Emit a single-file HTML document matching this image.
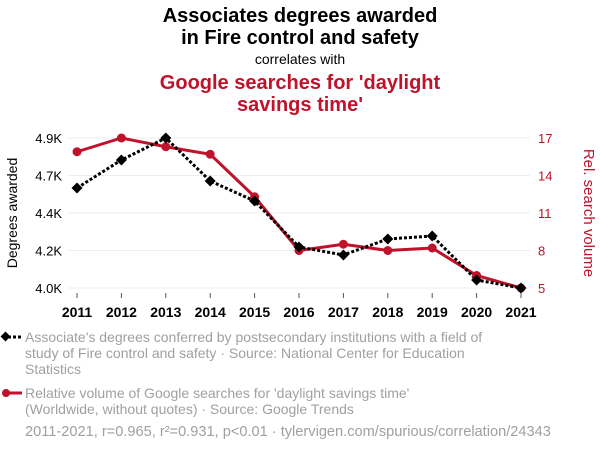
<!DOCTYPE html>
<html><head><meta charset="utf-8"><style>
body{margin:0;background:#fff;font-family:"Liberation Sans",sans-serif;}
svg{display:block}
</style></head><body>
<svg width="600" height="452">
<text x="300" y="22" text-anchor="middle" font-size="20" font-weight="bold" fill="#000">Associates degrees awarded</text>
<text x="300" y="44" text-anchor="middle" font-size="20" font-weight="bold" fill="#000">in Fire control and safety</text>
<text x="300" y="64" text-anchor="middle" font-size="14" fill="#000">correlates with</text>
<text x="300" y="89" text-anchor="middle" font-size="20" font-weight="bold" fill="#c0122a">Google searches for 'daylight</text>
<text x="300" y="111" text-anchor="middle" font-size="20" font-weight="bold" fill="#c0122a">savings time'</text>
<g id="grid"></g><g id="axes"></g><g id="series"></g>
<text transform="translate(17,213) rotate(-90)" text-anchor="middle" font-size="14" fill="#000">Degrees awarded</text>
<text transform="translate(584,213) rotate(90)" text-anchor="middle" font-size="15" fill="#c0122a">Rel. search volume</text>
<g>
<line x1="3" y1="337" x2="22" y2="337" stroke="#000" stroke-width="3" stroke-dasharray="3,2"/>
<rect x="2" y="333" width="7" height="7" transform="rotate(45 5.5 336.5)" fill="#000"/>
<text font-size="14" fill="#a0a0a0"><tspan x="25" y="342">Associate's degrees conferred by postsecondary institutions with a field of</tspan><tspan x="25" y="358">study of Fire control and safety · Source: National Center for Education</tspan><tspan x="25" y="374">Statistics</tspan></text>
</g>
<g>
<line x1="3" y1="393" x2="22" y2="393" stroke="#c0122a" stroke-width="3"/>
<circle cx="6" cy="393" r="4" fill="#c0122a"/>
<text font-size="14" fill="#a0a0a0"><tspan x="25" y="398">Relative volume of Google searches for 'daylight savings time'</tspan><tspan x="25" y="414">(Worldwide, without quotes) · Source: Google Trends</tspan></text>
</g>
<text x="25" y="436" font-size="14.6" fill="#a0a0a0">2011-2021, r=0.965, r²=0.931, p&lt;0.01 · tylervigen.com/spurious/correlation/24343</text>
</svg>
<script>
const years=[2011,2012,2013,2014,2015,2016,2017,2018,2019,2020,2021];
const degrees=[4600,4768,4900,4642,4522,4246,4198,4294,4312,4048,4000];
const searches=[15.9,17,16.3,15.7,12.3,8,8.5,8,8.2,6,5];
const leftTicks=[4000,4225,4450,4675,4900];
const leftTickLabels=["4.0K","4.2K","4.4K","4.7K","4.9K"];
const rightTicks=[5,8,11,14,17];
const NS="http://www.w3.org/2000/svg";
const X0=77,X1=521,Y0=288,Y1=138;
const xs=y=>X0+(y-2011)*(X1-X0)/10;
const yl=v=>Y0-(v-4000)/900*(Y0-Y1);
const yr=v=>Y0-(v-5)/12*(Y0-Y1);
function mk(tag,attrs,parent){const e=document.createElementNS(NS,tag);for(const k in attrs)e.setAttribute(k,attrs[k]);document.getElementById(parent).appendChild(e);return e;}
leftTicks.forEach((t,i)=>{
 const g=mk('line',{x1:68,x2:530,y1:yl(t),y2:yl(t),stroke:'#eee'},'grid');
 
 
 const l=mk('text',{x:62,y:yl(t)+5,'text-anchor':'end','font-size':13,fill:'#000'},'axes');l.textContent=leftTickLabels[i];
 
 
});
rightTicks.forEach(t=>{
 const l=mk('text',{x:538,y:yr(t)+5,'font-size':13,fill:'#c0122a'},'axes');l.textContent=t;
 
 
});
years.forEach(y=>{
 mk('line',{x1:xs(y),x2:xs(y),y1:293,y2:298,stroke:'#555'},'axes');
 const l=mk('text',{x:xs(y),y:317,'text-anchor':'middle','font-size':14,'font-weight':'bold',fill:'#000'},'axes');l.textContent=y;
 
 
});
const rl=mk('polyline',{points:years.map((y,i)=>xs(y)+','+yr(searches[i])).join(' '),fill:'none',stroke:'#c0122a','stroke-width':3},'series');


const bl=mk('polyline',{points:years.map((y,i)=>xs(y)+','+yl(degrees[i])).join(' '),fill:'none',stroke:'#000','stroke-width':3,'stroke-dasharray':'3,2'},'series');


years.forEach((y,i)=>{
 const c=mk('circle',{cx:xs(y),cy:yr(searches[i]),r:4.5,fill:'#c0122a'},'series');
 
 
 const cx=xs(y),cy=yl(degrees[i]);
 const d=mk('polygon',{points:`${cx},${cy-5.5} ${cx+5.5},${cy} ${cx},${cy+5.5} ${cx-5.5},${cy}`,fill:'#000'},'series');
 
 
});
</script>
</body></html>
